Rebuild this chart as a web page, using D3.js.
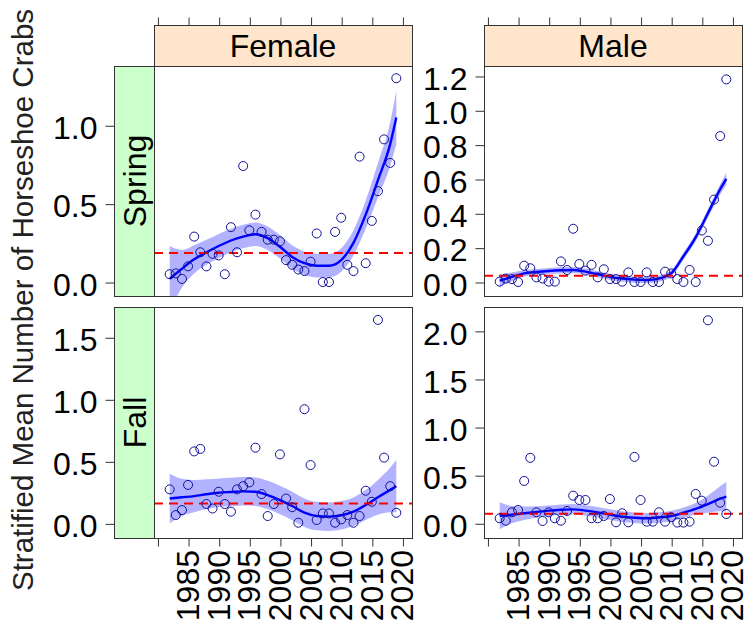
<!DOCTYPE html>
<html>
<head>
<meta charset="utf-8">
<script src="https://cdn.jsdelivr.net/npm/d3@7"></script>
<style>
  html, body { margin: 0; padding: 0; background: #ffffff; }
  svg { display: block; font-family: "Liberation Sans", Arial, sans-serif; }
</style>
</head>
<body>
<svg id="chart" width="748" height="630"></svg>
<script>
// Survey years (one stratified mean per year and panel)
const years = [1982, 1983, 1984, 1985, 1986, 1987, 1988, 1989, 1990, 1991,
               1992, 1993, 1994, 1995, 1996, 1997, 1998, 1999, 2000, 2001,
               2002, 2003, 2004, 2005, 2006, 2007, 2008, 2009, 2010, 2011,
               2012, 2013, 2014, 2015, 2016, 2017, 2018, 2019];

// Stratified mean number of horseshoe crabs per tow
const femaleSpring = [0.05, 0.055, 0.02, 0.10, 0.29, 0.19, 0.10, 0.18, 0.17, 0.05,
                      0.35, 0.19, 0.74, 0.33, 0.43, 0.32, 0.27, 0.27, 0.26, 0.14,
                      0.11, 0.08, 0.07, 0.13, 0.31, 0.00, 0.00, 0.32, 0.41, 0.11,
                      0.07, 0.80, 0.12, 0.39, 0.58, 0.91, 0.76, 1.30];
const maleSpring   = [0.002, 0.02, 0.017, 0.0, 0.095, 0.08, 0.027, 0.02, 0.002, 0.002,
                      0.12, 0.07, 0.31, 0.105, 0.066, 0.10, 0.027, 0.074, 0.017, 0.017,
                      0.002, 0.056, 0.0, 0.0, 0.056, 0.0, 0.0, 0.06, 0.05, 0.017,
                      0.0, 0.07, 0.0, 0.30, 0.24, 0.48, 0.85, 1.18];
const femaleFall   = [0.274, 0.067, 0.107, 0.31, 0.58, 0.60, 0.156, 0.12, 0.255, 0.156,
                      0.094, 0.274, 0.30, 0.33, 0.61, 0.236, 0.059, 0.156, 0.556, 0.20,
                      0.13, 0.005, 0.92, 0.47, 0.027, 0.08, 0.08, 0.005, 0.032, 0.067,
                      0.005, 0.059, 0.263, 0.174, 1.64, 0.53, 0.30, 0.085];
const maleFall     = [0.052, 0.027, 0.114, 0.138, 0.44, 0.68, 0.114, 0.024, 0.114, 0.052,
                      0.027, 0.128, 0.287, 0.242, 0.242, 0.052, 0.052, 0.076, 0.252, 0.010,
                      0.104, 0.010, 0.69, 0.242, 0.017, 0.017, 0.114, 0.017, 0.062, 0.007,
                      0.007, 0.017, 0.305, 0.235, 2.11, 0.64, 0.214, 0.097];

// Smoothed trend and its standard-error half width
const fitYears = [1982, 1984, 1986, 1988, 1990, 1992, 1994, 1996, 1998, 2000,
                  2002, 2004, 2006, 2008, 2010, 2012, 2014, 2016, 2018, 2019];
const femaleSpringFit = [0.02, 0.085, 0.145, 0.19, 0.23, 0.265, 0.29, 0.305, 0.28, 0.225,
                         0.16, 0.12, 0.104, 0.104, 0.14, 0.25, 0.43, 0.65, 0.88, 1.05];
const femaleSpringSe  = [0.21, 0.12, 0.09, 0.08, 0.077, 0.075, 0.075, 0.075, 0.075, 0.075,
                         0.075, 0.075, 0.075, 0.075, 0.075, 0.08, 0.09, 0.11, 0.14, 0.17];
const maleSpringFit   = [0.008, 0.03, 0.05, 0.058, 0.064, 0.068, 0.07, 0.06, 0.045, 0.03,
                         0.02, 0.014, 0.012, 0.02, 0.05, 0.15, 0.26, 0.40, 0.54, 0.60];
const maleSpringSe    = [0.035, 0.025, 0.02, 0.018, 0.018, 0.018, 0.018, 0.018, 0.018, 0.018,
                         0.018, 0.018, 0.018, 0.018, 0.018, 0.02, 0.022, 0.025, 0.03, 0.035];
const femaleFallFit   = [0.20, 0.21, 0.22, 0.235, 0.247, 0.253, 0.258, 0.255, 0.228, 0.188,
                         0.14, 0.086, 0.059, 0.054, 0.065, 0.094, 0.148, 0.21, 0.27, 0.30];
const femaleFallSe    = [0.20, 0.15, 0.13, 0.12, 0.115, 0.115, 0.115, 0.115, 0.115, 0.115,
                         0.115, 0.115, 0.115, 0.115, 0.115, 0.115, 0.12, 0.14, 0.18, 0.21];
const maleFallFit     = [0.079, 0.09, 0.104, 0.118, 0.131, 0.14, 0.145, 0.132, 0.114, 0.09,
                         0.069, 0.058, 0.052, 0.06, 0.076, 0.11, 0.15, 0.20, 0.255, 0.277];
const maleFallSe      = [0.14, 0.09, 0.07, 0.06, 0.055, 0.055, 0.055, 0.055, 0.055, 0.055,
                         0.055, 0.055, 0.055, 0.055, 0.055, 0.055, 0.06, 0.09, 0.13, 0.155];

// Long-term reference level (red dashed line)
const femaleSpringRef = 0.185;
const maleSpringRef   = 0.037;
const femaleFallRef   = 0.161;
const maleFallRef     = 0.10;

// Axis ticks
const xTickYears  = [1980, 1985, 1990, 1995, 2000, 2005, 2010, 2015, 2020];
const xLabelYears = [1985, 1990, 1995, 2000, 2005, 2010, 2015, 2020];
const femaleSpringTicks = [0, 0.5, 1.0];
const maleSpringTicks   = [0, 0.2, 0.4, 0.6, 0.8, 1.0, 1.2];
const femaleFallTicks   = [0, 0.5, 1.0, 1.5];
const maleFallTicks     = [0, 0.5, 1.0, 1.5, 2.0];

const sexes = ["Female", "Male"];
const seasons = ["Spring", "Fall"];
const yTitle = "Stratified Mean Number of Horseshoe Crabs";

// ---------- layout ----------
const svg = d3.select("#chart");
const colX = [154, 484];          // left edge of each panel column
const panelW = 258;
const rowY = [66, 307];           // top edge of each panel row
const panelH = [230, 231];
const stripTop = 25;
const leftStripX = 114;
const FONT = 32;

const xDomain = [1979.44, 2021.56];

const panels = [
  { col: 0, row: 0, vals: femaleSpring, fit: femaleSpringFit, se: femaleSpringSe, ref: femaleSpringRef, ticks: femaleSpringTicks, dom: [-0.089, 1.378] },
  { col: 1, row: 0, vals: maleSpring,   fit: maleSpringFit,   se: maleSpringSe,   ref: maleSpringRef,   ticks: maleSpringTicks,   dom: [-0.0816, 1.258] },
  { col: 0, row: 1, vals: femaleFall,   fit: femaleFallFit,   se: femaleFallSe,   ref: femaleFallRef,   ticks: femaleFallTicks,   dom: [-0.118, 1.744] },
  { col: 1, row: 1, vals: maleFall,     fit: maleFallFit,     se: maleFallSe,     ref: maleFallRef,     ticks: maleFallTicks,     dom: [-0.153, 2.248] }
];

const border = "#333333";

// Column strips (sex) with top ticks
sexes.forEach((s, c) => {
  const x = d3.scaleLinear().domain(xDomain).range([colX[c], colX[c] + panelW]);
  svg.append("rect")
    .attr("x", colX[c] + 0.5).attr("y", stripTop + 0.5)
    .attr("width", panelW).attr("height", rowY[0] - stripTop)
    .attr("fill", "#ffe5cc").attr("stroke", border).attr("stroke-width", 1);
  svg.append("text")
    .attr("x", colX[c] + panelW / 2).attr("y", (stripTop + rowY[0]) / 2 + 11.5)
    .attr("text-anchor", "middle").attr("font-size", FONT).attr("fill", "#000")
    .text(s);
  const topAxis = d3.axisTop(x).tickValues(xTickYears).tickSize(8).tickFormat("");
  const g = svg.append("g").attr("transform", `translate(0.5,${stripTop + 0.5})`).call(topAxis);
  g.select(".domain").remove();
  g.selectAll("line").attr("stroke", border);
});

// Row strips (season)
seasons.forEach((s, r) => {
  svg.append("rect")
    .attr("x", leftStripX + 0.5).attr("y", rowY[r] + 0.5)
    .attr("width", colX[0] - leftStripX).attr("height", panelH[r])
    .attr("fill", "#ccffcc").attr("stroke", border).attr("stroke-width", 1);
  const cx = (leftStripX + colX[0]) / 2 + 11.5;
  const cy = rowY[r] + panelH[r] / 2;
  svg.append("text")
    .attr("transform", `translate(${cx},${cy}) rotate(-90)`)
    .attr("text-anchor", "middle").attr("font-size", FONT).attr("fill", "#000")
    .text(s);
});

// Panels
panels.forEach((p, i) => {
  const x0 = colX[p.col], y0 = rowY[p.row], h = panelH[p.row];
  const x = d3.scaleLinear().domain(xDomain).range([x0, x0 + panelW]);
  const y = d3.scaleLinear().domain(p.dom).range([y0 + h, y0]);

  const clipId = "clip" + i;
  svg.append("clipPath").attr("id", clipId)
    .append("rect").attr("x", x0).attr("y", y0).attr("width", panelW).attr("height", h);

  const g = svg.append("g");
  const inner = g.append("g").attr("clip-path", `url(#${clipId})`);

  const fitData = fitYears.map((yr, k) => ({ yr, fit: p.fit[k], se: p.se[k] }));

  // confidence band
  inner.append("path")
    .datum(fitData)
    .attr("d", d3.area()
      .x(d => x(d.yr))
      .y0(d => y(d.fit - d.se))
      .y1(d => y(d.fit + d.se))
      .curve(d3.curveMonotoneX))
    .attr("fill", "#0000ff").attr("fill-opacity", 0.3);

  // trend line
  inner.append("path")
    .datum(fitData)
    .attr("d", d3.line().x(d => x(d.yr)).y(d => y(d.fit)).curve(d3.curveMonotoneX))
    .attr("fill", "none").attr("stroke", "#0000ff").attr("stroke-width", 2.4);

  // reference level
  inner.append("line")
    .attr("x1", x0).attr("x2", x0 + panelW)
    .attr("y1", y(p.ref)).attr("y2", y(p.ref))
    .attr("stroke", "#ff0000").attr("stroke-width", 2)
    .attr("stroke-dasharray", "9,6");

  // annual means
  g.append("g").selectAll("circle")
    .data(years.map((yr, k) => ({ yr, v: p.vals[k] })))
    .join("circle")
    .attr("cx", d => x(d.yr)).attr("cy", d => y(d.v)).attr("r", 4.5)
    .attr("fill", "none").attr("stroke", "#10109a").attr("stroke-width", 1);

  // panel border
  svg.append("rect")
    .attr("x", x0 + 0.5).attr("y", y0 + 0.5).attr("width", panelW).attr("height", h)
    .attr("fill", "none").attr("stroke", border).attr("stroke-width", 1);

  // y axis (left of the strip for the first column, left of the panel otherwise)
  const axisX = p.col === 0 ? leftStripX : x0;
  const yAxis = d3.axisLeft(y).tickValues(p.ticks).tickSize(9).tickPadding(8)
    .tickFormat(d3.format(".1f"));
  const ya = svg.append("g").attr("transform", `translate(${axisX + 0.5},0.5)`).call(yAxis);
  ya.select(".domain").remove();
  ya.selectAll("line").attr("stroke", border);
  ya.selectAll("text").attr("font-size", FONT).attr("font-family", "Liberation Sans, Arial, sans-serif")
    .attr("fill", "#000").attr("dy", "0.4em");

  // bottom axis for the lower row
  if (p.row === 1) {
    const xAxis = d3.axisBottom(x).tickValues(xTickYears).tickSize(8).tickFormat("");
    const xa = svg.append("g").attr("transform", `translate(0.5,${y0 + h + 0.5})`).call(xAxis);
    xa.select(".domain").remove();
    xa.selectAll("line").attr("stroke", border);
    svg.append("g").selectAll("text")
      .data(xLabelYears)
      .join("text")
      .attr("transform", d => `translate(${x(d) + 11},${y0 + h + 12}) rotate(-90)`)
      .attr("text-anchor", "end").attr("font-size", FONT).attr("fill", "#000")
      .text(d => d);
  }
});

// Shared y-axis title
svg.append("text")
  .attr("transform", `translate(33,300) rotate(-90)`)
  .attr("text-anchor", "middle").attr("font-size", 29.5).attr("fill", "#222")
  .text(yTitle);
</script>
</body>
</html>
